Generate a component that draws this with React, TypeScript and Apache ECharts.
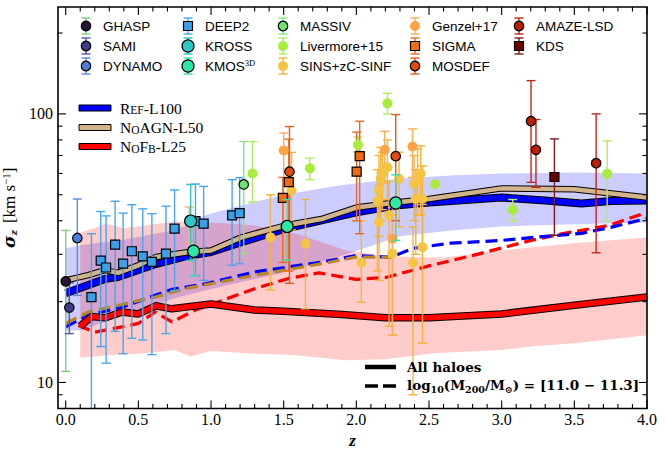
import React, { useEffect, useRef } from "react";
import * as echarts from "echarts";

const X_MIN = -0.053;
const X_MAX = 4;
const Y_MIN = 8;
const Y_MAX = 250;

const X_MAJOR = [0, 0.5, 1, 1.5, 2, 2.5, 3, 3.5, 4];
const X_MINOR = [0.1, 0.2, 0.3, 0.4, 0.6, 0.7, 0.8, 0.9, 1.1, 1.2, 1.3, 1.4, 1.6, 1.7, 1.8, 1.9, 2.1, 2.2, 2.3, 2.4, 2.6, 2.7, 2.8, 2.9, 3.1, 3.2, 3.3, 3.4, 3.6, 3.7, 3.8, 3.9];
const Y_MAJOR = [10, 100];
const Y_MINOR = [9, 20, 30, 40, 50, 60, 70, 80, 90, 200];

// ---- simulations: all haloes (solid) ----
const refZ = [0, 0.27, 0.36, 0.62, 0.85, 1.0, 1.22, 1.52, 2.0, 2.27, 2.5, 3.0, 3.3, 3.55, 3.75, 4.0];
const refAll = [21.5, 24.3, 24.7, 27.6, 29.7, 30.6, 33.4, 37.5, 43.0, 45.6, 46.8, 48.8, 47.6, 46.4, 47.4, 47.6];
const noagnZ = [0, 0.155, 0.27, 0.36, 0.5, 0.62, 0.85, 1.0, 1.21, 1.51, 1.76, 2.0, 2.27, 2.5, 3.0, 3.5, 4.0];
const noagnAll = [24.0, 25.1, 26.2, 25.6, 27.3, 29.3, 30.6, 31.0, 34.7, 38.4, 40.6, 44.8, 46.8, 48.2, 52.8, 52.4, 48.8];
const nofbZ = [0.1, 0.18, 0.27, 0.39, 0.5, 0.62, 0.73, 1.0, 1.3, 1.5, 1.9, 2.2, 2.5, 3.0, 3.5, 4.0];
const nofbAll = [16.2, 17.6, 17.4, 18.3, 18.0, 19.3, 18.8, 19.6, 18.6, 18.4, 17.9, 17.4, 17.4, 18.0, 19.4, 20.8];

// ---- simulations: log10(M200) = [11.0 - 11.3] (dashed) ----
const refBinZ = [0, 0.155, 0.39, 0.73, 0.96, 1.305, 1.766, 2.0, 2.24, 2.39, 2.65, 3.0, 3.3, 3.55, 3.75, 4.0];
const refBin = [16.1, 17.8, 19.1, 22.2, 23.3, 25.8, 28.1, 29.7, 29.3, 31.6, 33.0, 33.8, 35.0, 35.9, 37.8, 40.8];
const noagnBinZ = [0, 0.155, 0.27, 0.616, 0.846, 1.305, 1.766, 1.995, 2.237];
const noagnBin = [16.6, 18.3, 18.9, 20.8, 22.5, 25.1, 27.7, 29.3, 29.3];
const nofbBinZ = [0.087, 0.202, 0.386, 0.5, 0.616, 0.731, 0.892, 1.076, 1.305, 1.535, 1.742, 1.995, 2.202, 2.492, 2.81, 3.202, 3.43, 3.734, 4.0];
const nofbBin = [16.3, 15.4, 16.1, 16.6, 18.3, 16.8, 18.6, 20.2, 22.4, 24.4, 25.6, 24.2, 24.6, 27.1, 29.8, 33.8, 35.9, 38.4, 43.0];

// ---- scatter bands ----
const refBandZ = [0, 0.1, 0.4, 0.7, 0.84, 0.96, 1.2, 1.5, 1.89, 2.3, 2.65, 3.0, 3.5, 4.0];
const refBandHi = [31.6, 32.4, 34.0, 36.5, 38.4, 41.9, 45.5, 50.0, 54.2, 57.5, 59.0, 60.0, 60.5, 60.0];
const refBandLo = [15.6, 15.6, 17.8, 20.2, 21.2, 22.0, 23.6, 25.6, 29.5, 35.0, 36.8, 38.1, 38.8, 39.4];
const nofbBandZ = [0.1, 0.2, 0.27, 0.4, 0.5, 0.75, 0.86, 1.0, 1.3, 1.5, 1.6, 1.93, 2.2, 2.5, 2.6, 3.0, 3.2, 3.5, 4.0];
const nofbBandHi = [36.2, 37.5, 39.1, 37.5, 38.1, 39.8, 39.6, 39.4, 38.4, 36.5, 35.6, 31.0, 29.5, 29.2, 29.2, 31.0, 31.8, 33.0, 34.7];
const nofbBandLo = [12.4, 12.5, 12.6, 12.7, 12.8, 13.2, 12.5, 13.1, 12.8, 12.7, 12.6, 12.1, 12.2, 12.8, 12.9, 13.2, 13.6, 14.0, 15.0];

// ---- observations: [z, sigma, lower, upper] ----
const GHASP = [[0.0, 23.8, 11.0, 36.8]];
const SAMI = [[0.025, 19.0, 15.2, 23.5]];
const DYNAMO = [[0.08, 34.5, 21.1, 48.2]];
const DEEP2 = [
  [0.177, 20.8, 5, 35.8], [0.241, 28.4, 13.6, 43.3], [0.278, 26.8, 11.8, 41.7], [0.34, 32.6, 15.5, 47.3],
  [0.395, 27.7, 12.8, 42.7], [0.455, 30.8, 14.6, 45.9], [0.53, 29.5, 14.4, 44.3], [0.593, 28.1, 12.7, 42.5],
  [0.69, 30.2, 15.2, 45.3], [0.749, 37.4, 22.0, 52.1], [0.893, 39.9, 25.0, 54.8], [0.949, 39.0, 24.0, 53.7],
  [1.145, 41.9, 27.3, 56.9], [1.197, 42.7, 27.7, 57.9],
];
const KROSS = [[0.86, 39.9, 28.5, 54.6]];
const KMOS3D = [[0.88, 30.8, 25.0, 38.0], [1.524, 38.1, 28.5, 48.0], [2.271, 46.6, 33.8, 59.3]];
const MASSIV = [[1.225, 54.6, 30.2, 78.9]];
const LIVERMORE = [
  [1.285, 60.0, 47.0, 78.9], [1.68, 62.7, 56.9, 68.4], [2.011, 76.7, 72.0, 82.0], [2.214, 109.5, 100.0, 119.3],
  [2.542, 54.7, 54.7, 54.7], [3.076, 44.0, 39.9, 48.0], [3.726, 59.8, 39.9, 79.3],
];
const SINS = [
  [1.554, 51.9, 37.0, 71.9], [1.409, 34.7, 22.1, 50.0], [1.65, 32.9, 18.8, 48.0], [2.034, 27.9, 19.9, 40.0],
  [2.145, 47.6, 26.0, 62.0], [2.156, 51.9, 35.0, 70.0], [2.156, 39.5, 24.0, 54.0], [2.168, 57.3, 40.0, 75.0],
  [2.179, 59.8, 44.0, 72.0], [2.214, 63.3, 48.0, 80.0], [2.225, 41.9, 16.2, 56.0], [2.248, 30.2, 15.0, 42.0],
  [2.294, 57.3, 38.0, 72.0], [2.39, 27.9, 9.0, 38.0], [2.397, 54.9, 40.0, 70.0], [2.409, 48.3, 30.0, 62.0],
  [2.421, 56.5, 42.0, 74.0], [2.443, 59.8, 42.0, 76.0], [2.455, 48.3, 32.0, 64.0], [2.455, 31.9, 14.0, 46.0],
];
const GENZEL = [[0.85, 39.9, 33.0, 45.0], [1.5, 73.1, 30.0, 84.9], [2.195, 73.5, 55.0, 86.1], [2.386, 75.6, 58.0, 87.9], [2.248, 34.3, 15.0, 45.0]];
const SIGMA = [[1.494, 48.7, 28.0, 58.0], [1.535, 55.7, 26.0, 80.5], [2.002, 61.0, 40.0, 85.5], [2.023, 69.6, 35.8, 93.9]];
const MOSDEF = [[1.54, 60.9, 23.4, 89.7], [2.271, 69.6, 40.0, 99.4]];
const AMAZE = [[3.202, 93.9, 55.6, 133.0], [3.236, 73.5, 53.3, 95.3], [3.65, 65.5, 30.4, 100.0]];
const KDS = [[3.363, 58.2, 35.3, 80.7]];

type Survey = { name: string; rich?: string; data: number[][]; shape: "circle" | "rect"; color: string; err: string; edge: boolean; size: number; top?: boolean };

const SURVEYS: Survey[] = [
  { name: "GHASP", data: GHASP, shape: "circle", color: "#2a1535", err: "#80cc80", edge: true, size: 9.5 },
  { name: "SAMI", data: SAMI, shape: "circle", color: "#3d3d8a", err: "#5656b0", edge: true, size: 9.5 },
  { name: "DYNAMO", data: DYNAMO, shape: "circle", color: "#4f7ddb", err: "#5f88dc", edge: true, size: 9.5 },
  { name: "DEEP2", data: DEEP2, shape: "rect", color: "#3aa0ea", err: "#48a6ee", edge: true, size: 9 },
  { name: "KROSS", data: KROSS, shape: "circle", color: "#2cc8c8", err: "#2cc8c8", edge: true, size: 12, top: true },
  { name: "KMOS3D", rich: "{a|KMOS}{b|3D}", data: KMOS3D, shape: "circle", color: "#2ee8a5", err: "#38e0b0", edge: true, size: 12, top: true },
  { name: "MASSIV", data: MASSIV, shape: "circle", color: "#6ae46a", err: "#86e486", edge: true, size: 9.5 },
  { name: "Livermore+15", data: LIVERMORE, shape: "circle", color: "#a8ec3c", err: "#b0ec60", edge: false, size: 10 },
  { name: "SINS+zC-SINF", data: SINS, shape: "circle", color: "#f5c443", err: "#f5b438", edge: false, size: 10 },
  { name: "Genzel+17", data: GENZEL, shape: "circle", color: "#ffa445", err: "#ffae58", edge: false, size: 10 },
  { name: "SIGMA", data: SIGMA, shape: "rect", color: "#f26b12", err: "#e86a20", edge: true, size: 9 },
  { name: "MOSDEF", data: MOSDEF, shape: "circle", color: "#e24a10", err: "#e85a1c", edge: true, size: 9.5 },
  { name: "AMAZE-LSD", data: AMAZE, shape: "circle", color: "#b82000", err: "#c02818", edge: true, size: 9.5 },
  { name: "KDS", data: KDS, shape: "rect", color: "#6e0000", err: "#7a1a1a", edge: true, size: 9 },
];

const LEG_COLS = [86, 188, 283, 415, 519];
const LEG_ROWS = [26, 46, 66];
const SANS = "Liberation Sans";
const SERIF = "Liberation Serif";

function errSeries(s: Survey) {
  return {
    type: "custom",
    name: s.name + "-err",
    z: s.top ? 6 : 4,
    silent: true,
    dimensions: ["z", "s", "lo", "hi"],
    encode: { x: 0, y: 1 },
    data: s.data,
    renderItem: (params: any, api: any) => {
      const zz = api.value(0);
      const lo = api.value(2);
      const hi = api.value(3);
      const children: any[] = [];
      if (hi > lo) {
        const top = api.coord([zz, Math.min(hi, Y_MAX)]);
        const bot = api.coord([zz, Math.max(lo, Y_MIN)]);
        const st = { stroke: s.err, lineWidth: 1.4 };
        children.push({ type: "line", shape: { x1: top[0], y1: top[1], x2: bot[0], y2: bot[1] }, style: st });
        if (hi <= Y_MAX) children.push({ type: "line", shape: { x1: top[0] - 4.5, y1: top[1], x2: top[0] + 4.5, y2: top[1] }, style: st });
        if (lo >= Y_MIN) children.push({ type: "line", shape: { x1: bot[0] - 4.5, y1: bot[1], x2: bot[0] + 4.5, y2: bot[1] }, style: st });
      }
      return { type: "group", children };
    },
  };
}

function markSeries(s: Survey) {
  return {
    type: "scatter",
    name: s.name,
    z: s.top ? 7 : 5,
    silent: true,
    symbol: s.shape,
    symbolSize: s.size,
    data: s.data.map((d) => [d[0], d[1]]),
    itemStyle: { color: s.color, borderColor: "#000", borderWidth: s.edge ? 1.2 : 0, opacity: 1 },
  };
}

function bandSeries(zs: number[], lo: number[], hi: number[], color: string) {
  return {
    type: "custom",
    z: 1,
    silent: true,
    data: [[zs[0], lo[0]]],
    renderItem: (params: any, api: any) => {
      const pts: number[][] = [];
      zs.forEach((x, i) => pts.push(api.coord([x, hi[i]])));
      for (let i = zs.length - 1; i >= 0; i--) pts.push(api.coord([zs[i], lo[i]]));
      return { type: "polygon", shape: { points: pts }, style: { fill: color } };
    },
  };
}

function lineSeries(zs: number[], vs: number[], color: string, width: number, type: any, z: number) {
  return {
    type: "line",
    z,
    silent: true,
    symbol: "none",
    showSymbol: false,
    data: zs.map((x, i) => [x, vs[i]]),
    lineStyle: { color, width, type, cap: "butt", join: "round" },
  };
}

const ticksSeries = {
  type: "custom",
  z: 8,
  silent: true,
  data: [[0, 10]],
  renderItem: (params: any, api: any) => {
    const [xl, yb] = api.coord([X_MIN, Y_MIN]);
    const [xr, yt] = api.coord([X_MAX, Y_MAX]);
    const ch: any[] = [];
    const L = (x1: number, y1: number, x2: number, y2: number) =>
      ch.push({ type: "line", shape: { x1, y1, x2, y2 }, style: { stroke: "#000", lineWidth: 1.1 } });
    X_MAJOR.forEach((v) => { const x = api.coord([v, 10])[0]; L(x, yb, x, yb - 8); L(x, yt, x, yt + 8); });
    X_MINOR.forEach((v) => { const x = api.coord([v, 10])[0]; L(x, yb, x, yb - 4.5); L(x, yt, x, yt + 4.5); });
    Y_MAJOR.forEach((v) => { const y = api.coord([1, v])[1]; L(xl, y, xl + 8, y); L(xr, y, xr - 8, y); });
    Y_MINOR.forEach((v) => { const y = api.coord([1, v])[1]; L(xl, y, xl + 4.5, y); L(xr, y, xr - 4.5, y); });
    ch.push({ type: "rect", shape: { x: xl, y: yt, width: xr - xl, height: yb - yt }, style: { fill: "none", stroke: "#000", lineWidth: 1.6 } });
    return { type: "group", children: ch };
  },
};

function legendGraphics() {
  const els: any[] = [];
  SURVEYS.forEach((s, i) => {
    const cx = LEG_COLS[Math.floor(i / 3)];
    const cy = LEG_ROWS[i % 3];
    const st = { stroke: s.err, lineWidth: 1.4 };
    els.push({ type: "line", shape: { x1: cx, y1: cy - 8, x2: cx, y2: cy + 8 }, style: st, z: 10 });
    els.push({ type: "line", shape: { x1: cx - 4.5, y1: cy - 8, x2: cx + 4.5, y2: cy - 8 }, style: st, z: 10 });
    els.push({ type: "line", shape: { x1: cx - 4.5, y1: cy + 8, x2: cx + 4.5, y2: cy + 8 }, style: st, z: 10 });
    const mst = { fill: s.color, stroke: s.edge ? "#000" : "none", lineWidth: s.edge ? 1.2 : 0 };
    if (s.shape === "circle") els.push({ type: "circle", shape: { cx, cy, r: s.size / 2 }, style: mst, z: 11 });
    else els.push({ type: "rect", shape: { x: cx - s.size / 2, y: cy - s.size / 2, width: s.size, height: s.size }, style: mst, z: 11 });
    els.push({
      type: "text", z: 11,
      style: {
        text: s.rich || s.name, x: cx + 17, y: cy, fill: "#000",
        fontFamily: SANS, fontSize: 13.5, textVerticalAlign: "middle", verticalAlign: "middle",
        rich: { a: { fontFamily: SANS, fontSize: 13.5, lineHeight: 15, verticalAlign: "bottom" }, b: { fontFamily: SERIF, fontSize: 8.5, lineHeight: 9, verticalAlign: "top" } },
      },
    });
  });
  const simLeg = [
    { text: "{b|R}{s|EF}{b|-L100}", color: "#0000ff", y: 108 },
    { text: "{b|N}{s|O}{b|AGN-L50}", color: "#d2b48c", y: 127.5 },
    { text: "{b|N}{s|O}{b|F}{s|B}{b|-L25}", color: "#ff0000", y: 146.5 },
  ];
  simLeg.forEach((l) => {
    els.push({ type: "rect", shape: { x: 79, y: l.y - 3, width: 32, height: 6 }, style: { fill: l.color, stroke: "#000", lineWidth: 1 }, z: 10 });
    els.push({
      type: "text", z: 10,
      style: {
        text: l.text, x: 120, y: l.y, fill: "#000", textVerticalAlign: "middle", verticalAlign: "middle",
        rich: { b: { fontFamily: SERIF, fontSize: 15.5, lineHeight: 16, verticalAlign: "bottom" }, s: { fontFamily: SERIF, fontSize: 11.5, lineHeight: 16, verticalAlign: "bottom" } },
      },
    });
  });
  els.push({ type: "line", shape: { x1: 365, y1: 367, x2: 396, y2: 367 }, style: { stroke: "#000", lineWidth: 4.5 }, z: 10 });
  els.push({ type: "line", shape: { x1: 365, y1: 386, x2: 396, y2: 386 }, style: { stroke: "#000", lineWidth: 3.5, lineDash: [13, 5] }, z: 10 });
  els.push({
    type: "text", z: 10,
    style: { text: "All haloes", x: 407, y: 367, fill: "#000", fontFamily: "DejaVu Serif", fontWeight: "bold", fontSize: 13.5, textVerticalAlign: "middle", verticalAlign: "middle" },
  });
  els.push({
    type: "text", z: 10,
    style: {
      text: "{t|log}{s|10}{t|(M}{s|200}{t|/M}{s|⊙}{t|) = [11.0 − 11.3]}", x: 407, y: 386, fill: "#000",
      textVerticalAlign: "middle", verticalAlign: "middle",
      rich: {
        t: { fontFamily: "DejaVu Serif", fontWeight: "bold", fontSize: 13.5, lineHeight: 17, verticalAlign: "top" },
        s: { fontFamily: "DejaVu Serif", fontWeight: "bold", fontSize: 9.5, lineHeight: 11, verticalAlign: "bottom" },
      },
    },
  });
  return els;
}

function buildOption(): any {
  const isPow = (v: number) => { const l = Math.log10(v); return Math.abs(l - Math.round(l)) < 1e-6; };
  return {
    animation: false,
    backgroundColor: "#fff",
    grid: { left: 58, right: 18, top: 7, bottom: 45.5, outerBoundsMode: "none", containLabel: false },
    xAxis: {
      type: "value", min: X_MIN, max: X_MAX, splitNumber: 8,
      axisLine: { show: false }, axisTick: { show: false }, splitLine: { show: false },
      axisLabel: {
        color: "#000", fontFamily: SERIF, fontSize: 16, margin: 3,
        formatter: (v: number) => (Math.abs(v * 2 - Math.round(v * 2)) < 1e-6 && v >= 0 ? v.toFixed(1) : ""),
      },
      name: "z", nameLocation: "middle", nameGap: 20,
      nameTextStyle: { color: "#000", fontFamily: SERIF, fontStyle: "italic", fontWeight: "bold", fontSize: 17 },
    },
    yAxis: {
      type: "log", logBase: 10, min: Y_MIN, max: Y_MAX,
      axisLine: { show: false }, axisTick: { show: false }, splitLine: { show: false }, minorTick: { show: false },
      axisLabel: { color: "#000", fontFamily: SERIF, fontSize: 16, margin: 5, formatter: (v: number) => (isPow(v) && v >= 9 && v <= 200 ? String(Math.round(v)) : "") },
      name: "{s|σ}{sub|z}  {n|[km s}{sup|−1}{n|]}", nameLocation: "middle", nameGap: 27, nameRotate: 90,
      nameTextStyle: {
        color: "#000",
        rich: {
          s: { fontFamily: "DejaVu Serif", fontStyle: "italic", fontWeight: "bold", fontSize: 17, lineHeight: 18, verticalAlign: "middle" },
          sub: { fontFamily: "DejaVu Serif", fontStyle: "italic", fontWeight: "bold", fontSize: 10, lineHeight: 10, verticalAlign: "bottom" },
          n: { fontFamily: SERIF, fontSize: 17, lineHeight: 18, verticalAlign: "middle" },
          sup: { fontFamily: SERIF, fontSize: 11, lineHeight: 10, verticalAlign: "top" },
        },
      },
    },
    graphic: { elements: legendGraphics() },
    series: [
      bandSeries(refBandZ, refBandLo, refBandHi, "rgba(0,0,255,0.2)"),
      bandSeries(nofbBandZ, nofbBandLo, nofbBandHi, "rgba(255,0,0,0.2)"),
      lineSeries(nofbBinZ, nofbBin, "#ff0000", 3.2, [12, 6], 2),
      lineSeries(refBinZ, refBin, "#0000ff", 3.2, [12, 6], 2),
      lineSeries(noagnBinZ, noagnBin, "#b8862b", 3.2, [12, 6], 2),
      lineSeries(refZ, refAll, "#000", 8, "solid", 3),
      lineSeries(refZ, refAll, "#0000ff", 6, "solid", 3),
      lineSeries(noagnZ, noagnAll, "#000", 6.5, "solid", 3),
      lineSeries(noagnZ, noagnAll, "#d2b48c", 4.5, "solid", 3),
      lineSeries(nofbZ, nofbAll, "#000", 7.5, "solid", 3),
      lineSeries(nofbZ, nofbAll, "#ff0000", 5.5, "solid", 3),
      ...SURVEYS.map(errSeries),
      ...SURVEYS.map(markSeries),
      ticksSeries,
    ],
  };
}

export default function App() {
  const ref = useRef<HTMLDivElement>(null);
  useEffect(() => {
    document.body.style.margin = "0";
    const chart = echarts.init(ref.current!, null, { renderer: "svg" });
    chart.setOption(buildOption());
    return () => chart.dispose();
  }, []);
  return <div ref={ref} style={{ width: 665, height: 454 }} />;
}
